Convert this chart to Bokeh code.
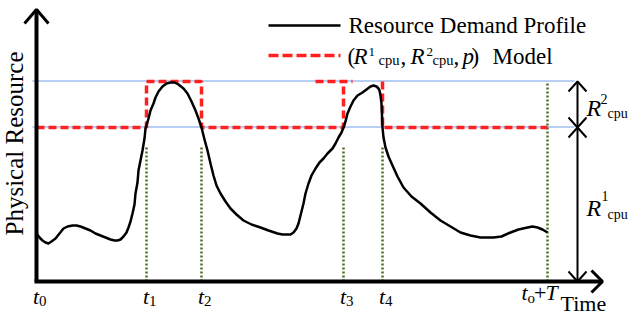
import math
from bokeh.plotting import figure
from bokeh.models import Range1d
from bokeh.core.properties import value
from bokeh.embed import file_html
from bokeh.resources import INLINE

# ---------------- data ----------------
tick_times = [0, 110, 165, 307, 346, 511]          # t0, t1, t2, t3, t4, t0+T
tick_subs = ["0", "1", "2", "3", "4"]
r1_cpu = 154                                        # base level R1_cpu
r2_cpu = 46                                         # extra level R2_cpu
peak_level = r1_cpu + r2_cpu

demand_t = [0, 3, 6, 9, 12, 15, 19, 23, 27, 31, 36, 40, 44, 49, 54, 59, 64, 69, 74, 78, 81,
            84, 87, 90, 92, 94, 96, 98, 99, 101, 102, 104, 106, 108, 109, 112, 114, 117,
            119, 122, 126, 130, 134, 138, 142, 147, 151, 155, 159, 162, 165, 168, 171, 174,
            177, 180, 184, 189, 194, 200, 207, 215, 224, 232, 241, 246, 251, 254, 257, 260,
            262, 264, 267, 269, 272, 275, 279, 283, 287, 291, 296, 299, 302, 305, 307, 309,
            311, 314, 317, 321, 326, 330, 334, 337, 340, 342, 343, 344, 345, 346, 347, 349,
            352, 356, 361, 367, 375, 384, 394, 404, 414, 424, 434, 444, 450, 457, 465, 474,
            482, 491, 496, 501, 506, 511]
demand_r = [48, 44, 41, 39, 38, 40, 43, 48, 53, 55, 56, 56, 55, 53, 51, 48, 46, 44, 42, 41, 41,
            42, 45, 49, 54, 60, 68, 77, 88, 99, 111, 121, 131, 143, 153, 163, 171, 178,
            184, 190, 195, 198, 199, 199, 197, 193, 188, 180, 171, 163, 154, 142, 131, 118,
            106, 96, 88, 80, 73, 67, 61, 57, 54, 51, 48, 47, 47, 47, 49, 53,
            58, 66, 78, 88, 98, 106, 113, 119, 123, 128, 133, 138, 144, 149, 154, 160,
            168, 175, 181, 186, 189, 192, 195, 196, 195, 193, 191, 186, 178, 154, 144, 134,
            125, 116, 105, 94, 85, 78, 69, 61, 55, 49, 46, 44, 44, 44, 45, 49,
            52, 54, 55, 54, 52, 49]

nan = float("nan")
model_t = [0, 110, 110, 165, 165, 307, 307, nan, 279, 316, nan, 346, 346, 511]
model_r = [154, 154, 200, 200, 154, 154, 200, nan, 200, 200, nan, 200, 154, 154]

# ---------------- figure ----------------
p = figure(width=629, height=320, x_range=Range1d(-36, 593), y_range=Range1d(-39, 281),
           output_backend="svg", toolbar_location=None, x_axis_type=None, y_axis_type=None,
           min_border=0)
p.outline_line_color = None
p.background_fill_color = "white"
p.border_fill_color = "white"

FONT = value("Liberation Serif")
BLUE = "#4f86e0"
RED = "#ff2020"
GREEN = "#4a6e1e"

def txt(x, y, s, size, style="normal", align="left", angle=0.0):
    shift = 0.3 * size
    if angle:
        x -= shift
    else:
        y += shift
    p.text(x=[x], y=[y], text=[s], text_font=FONT, text_font_size=f"{size}px",
           text_font_style=style, text_align=align, text_baseline="alphabetic",
           angle=angle, text_color="black")

# reference levels (thin blue)
for lvl in (r1_cpu, peak_level):
    p.line([-4, 538], [lvl + 0.5, lvl + 0.5], line_color=BLUE, line_width=1, line_alpha=0.8)

# green dotted verticals
for t in tick_times[1:5]:
    p.line([t, t], [0, 136], line_color=GREEN, line_width=2.5, line_dash="2 2")
p.line([tick_times[5], tick_times[5]], [0, peak_level], line_color=GREEN, line_width=2.5,
       line_dash="2 2")

# model (red dashed)
p.line(model_t, model_r, line_color=RED, line_width=3.5, line_dash="8 4")

# demand profile
p.line(demand_t, demand_r, line_color="black", line_width=2.5, line_join="round")

# axes
p.line([0, 0], [0, 272], line_color="black", line_width=4)
p.line([-2, 566], [0, 0], line_color="black", line_width=4)
p.line([-12, 0, 12], [258, 272, 258], line_color="black", line_width=3)
p.line([555, 566, 555], [11, 0, -11], line_color="black", line_width=3)

# R annotation arrows
ax = 541
p.line([ax, ax], [0, peak_level], line_color="black", line_width=2)
p.line([ax - 9, ax, ax + 9], [peak_level - 10, peak_level, peak_level - 10], line_color="black", line_width=2)
p.line([ax - 9, ax, ax + 9], [r1_cpu + 10, r1_cpu, r1_cpu + 10], line_color="black", line_width=2)
p.line([ax - 9, ax, ax + 9], [r1_cpu - 10, r1_cpu, r1_cpu - 10], line_color="black", line_width=2)
p.line([ax - 9, ax, ax + 9], [10, 0, 10], line_color="black", line_width=2)

# R labels
txt(550, 166, "R", 24, "italic")
txt(564, 178, "2", 14)
txt(571, 164, "cpu", 14)
txt(550, 66, "R", 24, "italic")
txt(565, 81, "1", 14)
txt(571, 63, "cpu", 14)

# legend
p.line([232, 304], [256, 256], line_color="black", line_width=2.5)
p.line([232, 304], [226, 226], line_color=RED, line_width=3.5, line_dash="10 4")
txt(312, 249, "Resource Demand Profile", 23)
txt(311, 218, "(", 23)
txt(317, 218, "R", 23, "italic")
txt(332, 226, "1", 13)
txt(342, 217, "cpu", 14.5)
txt(364, 218, ",", 23)
txt(374, 218, "R", 23, "italic")
txt(390, 226, "2", 13)
txt(396, 217, "cpu", 14.5)
txt(417, 218, ",", 23)
txt(426, 218, "p", 23, "italic")
txt(435, 218, ")", 23)
txt(456, 218, "Model", 23)

# time tick labels
for t, sub in zip(tick_times[:5], tick_subs):
    txt(t + 2.5, -22, "t", 22, "italic", align="right")
    txt(t + 2.5, -24, sub, 15)
tT = tick_times[5]
txt(tT - 20, -18, "t", 22, "italic", align="right")
txt(tT - 20, -21, "o", 15)
txt(tT - 13.5, -18, "+", 22)
txt(tT - 2, -18, "T", 22, "italic")
txt(524, -29, "Time", 22)

# y label
txt(-15, 138, "Physical Resource", 25, align="center", angle=math.pi / 2)

open("out.html", "w").write(file_html(p, INLINE))
